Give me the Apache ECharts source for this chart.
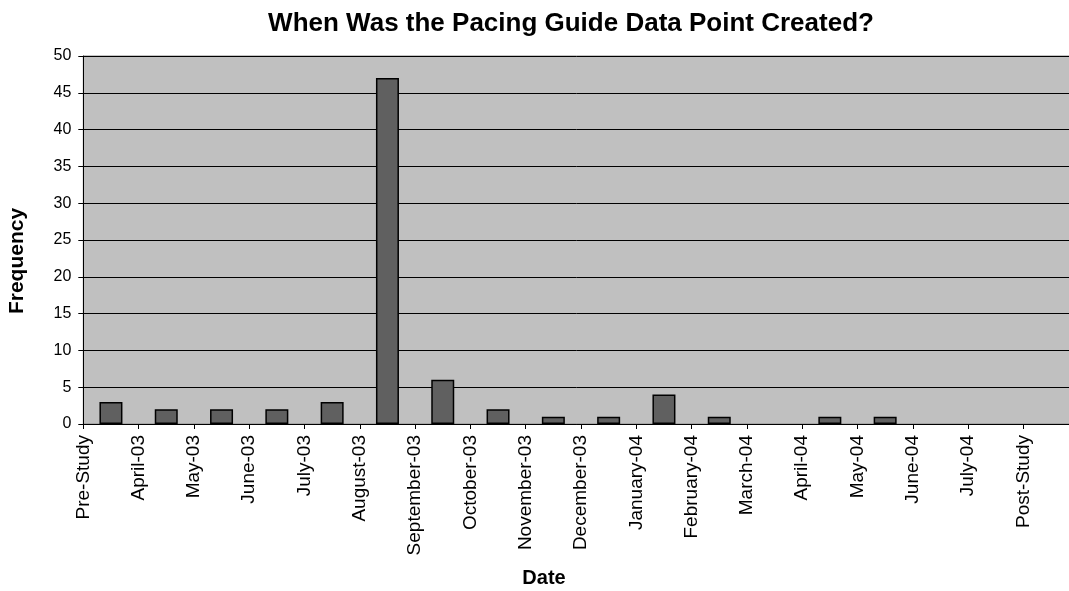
<!DOCTYPE html>
<html>
<head>
<meta charset="utf-8">
<script src="https://cdn.jsdelivr.net/npm/echarts@6/dist/echarts.min.js"></script>
<style>
  html, body { margin: 0; padding: 0; background: #ffffff; }
  #chart { width: 1069px; height: 591px; }
</style>
</head>
<body>
<div id="chart"></div>
<script>
// Boundary labels between the monthly bins
const tickLabels = [
  'Pre-Study', 'April-03', 'May-03', 'June-03', 'July-03', 'August-03',
  'September-03', 'October-03', 'November-03', 'December-03', 'January-04',
  'February-04', 'March-04', 'April-04', 'May-04', 'June-04', 'July-04', 'Post-Study'
];

// Number of data points created within each bin (bin i lies between tickLabels[i] and tickLabels[i+1];
// the last bin follows Post-Study)
const frequencies = [3, 2, 2, 2, 3, 47, 6, 2, 1, 1, 4, 1, 0, 1, 1, 0, 0, 0];

const yMin = 0, yMax = 50, yStep = 5;

const binIds = frequencies.map((_, i) => 'bin' + i);
const font = 'Liberation Sans, Arial, Helvetica, sans-serif';

// Empty bins draw nothing (no outline on the baseline)
const barData = frequencies.map(v => ({
  value: v,
  itemStyle: v === 0 ? { borderWidth: 0, opacity: 0 } : undefined
}));

const chart = echarts.init(document.getElementById('chart'), null, { renderer: 'canvas' });

chart.setOption({
  animation: false,
  backgroundColor: '#ffffff',
  title: {
    text: 'When Was the Pacing Guide Data Point Created?',
    left: 566,
    top: 6,
    textAlign: 'center',
    textStyle: { fontFamily: font, fontSize: 26, fontWeight: 'bold', color: '#000' }
  },
  graphic: [
    {
      type: 'text',
      x: 17.5,
      y: 261,
      rotation: Math.PI / 2,
      style: {
        text: 'Frequency',
        font: 'bold 21px ' + font,
        fill: '#000',
        align: 'center',
        verticalAlign: 'middle'
      }
    },
    {
      type: 'text',
      x: 544,
      y: 578,
      style: {
        text: 'Date',
        font: 'bold 20px ' + font,
        fill: '#000',
        align: 'center',
        verticalAlign: 'middle'
      }
    }
  ],
  grid: {
    left: 83.3,
    width: 995.4,
    top: 56,
    bottom: 167,
    outerBoundsMode: 'none',
    containLabel: false,
    show: true,
    backgroundColor: '#c0c0c0',
    borderColor: '#8a8a8a',
    borderWidth: 1
  },
  xAxis: [
    {
      // axis carrying the boundary labels
      type: 'category',
      data: tickLabels.concat(['']),
      boundaryGap: false,
      position: 'bottom',
      axisLine: { show: true, lineStyle: { color: '#000', width: 1 } },
      axisTick: { show: true, length: 5, interval: 0, lineStyle: { color: '#000' } },
      axisLabel: {
        interval: 0,
        rotate: 90,
        margin: 11,
        fontFamily: font,
        fontSize: 19,
        color: '#000'
      },
      splitLine: { show: false }
    },
    {
      // axis for the bins themselves
      type: 'category',
      data: binIds,
      boundaryGap: true,
      position: 'bottom',
      show: false
    }
  ],
  yAxis: {
    type: 'value',
    min: yMin,
    max: yMax,
    interval: yStep,
    axisLine: { show: true, lineStyle: { color: '#000', width: 1 } },
    axisTick: { show: true, length: 5, lineStyle: { color: '#000' } },
    axisLabel: { fontFamily: font, fontSize: 16, color: '#000', margin: 12 },
    splitLine: { show: true, lineStyle: { color: '#000', width: 1 } }
  },
  series: [
    {
      type: 'bar',
      xAxisIndex: 1,
      data: barData,
      barWidth: 23,
      itemStyle: { color: '#606060', borderColor: '#000', borderWidth: 1.5 }
    }
  ]
});
</script>
</body>
</html>
